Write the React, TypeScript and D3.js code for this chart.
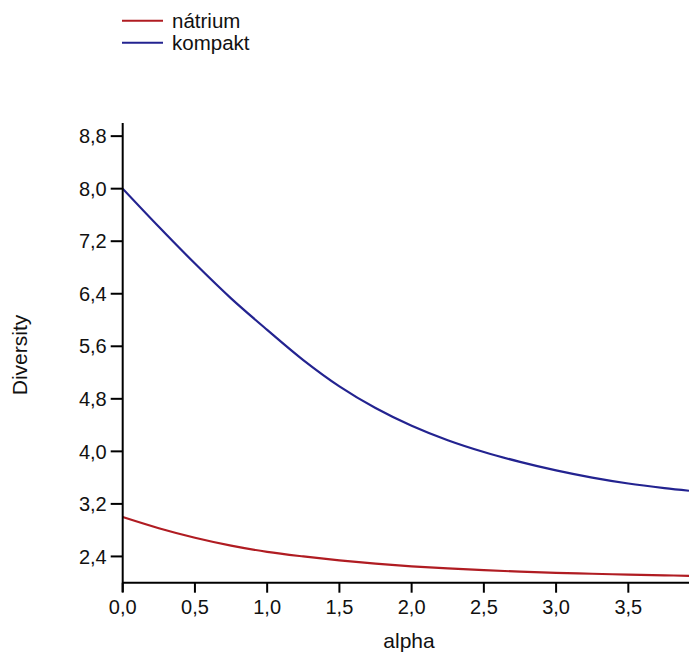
import React from "react";
import * as d3 from "d3";

const alphaValues = [0, 0.25, 0.5, 0.75, 1.0, 1.25, 1.5, 1.75, 2.0, 2.25, 2.5, 2.75, 3.0, 3.25, 3.5, 3.75, 3.92];
const kompaktValues = [8.0, 7.42, 6.86, 6.33, 5.85, 5.39, 4.99, 4.66, 4.39, 4.17, 3.99, 3.84, 3.71, 3.6, 3.51, 3.44, 3.4];
const natriumValues = [3.0, 2.83, 2.685, 2.565, 2.47, 2.4, 2.34, 2.29, 2.25, 2.217, 2.19, 2.168, 2.15, 2.136, 2.123, 2.112, 2.105];
const xTicks = [0, 0.5, 1.0, 1.5, 2.0, 2.5, 3.0, 3.5];
const yTicks = [2.4, 3.2, 4.0, 4.8, 5.6, 6.4, 7.2, 8.0, 8.8];
const seriesNames = ["nátrium", "kompakt"];
const seriesColors = ["#b01c22", "#232390"];

const W = 689;
const H = 652;
const FONT = "'Liberation Sans', Arial, sans-serif";

export default function App() {
  const x = d3.scaleLinear().domain([0, 3.92]).range([122.7, 689]);
  const y = d3.scaleLinear().domain([2.0, 9.0]).range([582.7, 123]);
  const fmt = (v: number) => v.toFixed(1).replace(".", ",");

  const line = d3
    .line<number>()
    .x((_, i) => x(alphaValues[i]))
    .y((d) => y(d))
    .curve(d3.curveCatmullRom.alpha(0.5));

  const series = [natriumValues, kompaktValues];

  return (
    <svg
      width={W}
      height={H}
      style={{ position: "absolute", left: 0, top: 0, background: "#fff" }}
      fontFamily={FONT}
    >
      {/* legend */}
      {seriesNames.map((name, i) => (
        <g key={name}>
          <line x1={122} x2={163} y1={20.7 + i * 22} y2={20.7 + i * 22} stroke={seriesColors[i]} strokeWidth={2} />
          <text x={172} y={27.5 + i * 22} fontSize={20.5} fill="#111">
            {name}
          </text>
        </g>
      ))}

      {/* curves */}
      <defs>
        <clipPath id="plotClip">
          <rect x={122} y={100} width={W - 122} height={490} />
        </clipPath>
      </defs>
      <g clipPath="url(#plotClip)">
        {series.map((vals, i) => (
          <path key={i} d={line(vals) || ""} fill="none" stroke={seriesColors[i]} strokeWidth={2.2} />
        ))}
      </g>

      {/* y axis */}
      <line x1={x(0)} x2={x(0)} y1={y(9.0)} y2={592} stroke="#000" strokeWidth={2} />
      {yTicks.map((t) => (
        <g key={t}>
          <line x1={x(0) - 12} x2={x(0)} y1={y(t)} y2={y(t)} stroke="#000" strokeWidth={2} />
          <text x={x(0) - 16} y={y(t)} dy="0.36em" textAnchor="end" fontSize={20} fill="#111">
            {fmt(t)}
          </text>
        </g>
      ))}

      {/* x axis */}
      <line x1={x(0)} x2={W} y1={y(2.0)} y2={y(2.0)} stroke="#000" strokeWidth={2} />
      {xTicks.map((t) => (
        <g key={t}>
          <line x1={x(t)} x2={x(t)} y1={y(2.0)} y2={y(2.0) + 10} stroke="#000" strokeWidth={2} />
          <text x={x(t)} y={614} textAnchor="middle" fontSize={20} fill="#111">
            {fmt(t)}
          </text>
        </g>
      ))}

      {/* axis titles */}
      <text x={409} y={648} textAnchor="middle" fontSize={21} fill="#111">
        alpha
      </text>
      <text
        transform={`translate(27, 355) rotate(-90)`}
        textAnchor="middle"
        fontSize={21}
        fill="#111"
      >
        Diversity
      </text>
    </svg>
  );
}
